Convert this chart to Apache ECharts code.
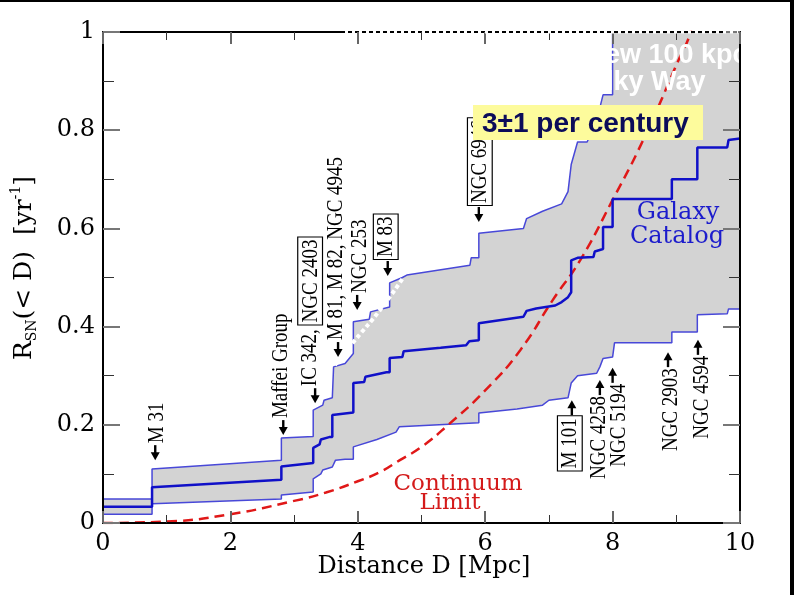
<!DOCTYPE html>
<html><head><meta charset="utf-8">
<script src="https://cdn.jsdelivr.net/npm/echarts@6/dist/echarts.min.js"></script>
<style>html,body{margin:0;padding:0;background:#fff}#c{width:794px;height:595px}</style>
</head><body><div id="c"></div>
<script>
// ---- data ----
var upperEnv = [[0,0.049],[0.77,0.049],[0.77,0.11],[2.8,0.128],[2.8,0.173],[3.3,0.176],[3.3,0.23],[3.45,0.24],[3.47,0.25],[3.6,0.255],[3.62,0.318],[3.8,0.325],[3.93,0.345],[3.93,0.41],[4.18,0.415],[4.2,0.43],[4.5,0.44],[4.5,0.489],[4.7,0.50],[4.77,0.505],[5.76,0.525],[5.78,0.54],[5.9,0.54],[5.9,0.59],[6.6,0.60],[6.65,0.62],[6.9,0.635],[7.2,0.65],[7.3,0.675],[7.35,0.73],[7.45,0.776],[7.6,0.776],[7.75,0.82],[7.85,0.872],[8.0,0.872],[8.0,1.05],[10,1.05]];
var middle = [[0,0.033],[0.77,0.033],[0.77,0.073],[2.8,0.088],[2.8,0.115],[3.3,0.122],[3.3,0.153],[3.4,0.16],[3.42,0.17],[3.55,0.175],[3.6,0.175],[3.6,0.22],[3.93,0.225],[3.93,0.285],[4.1,0.287],[4.12,0.298],[4.45,0.307],[4.5,0.307],[4.5,0.336],[4.7,0.338],[4.72,0.35],[5.3,0.357],[5.7,0.362],[5.75,0.37],[5.9,0.372],[5.9,0.407],[6.6,0.42],[6.65,0.432],[6.8,0.437],[7.1,0.443],[7.2,0.45],[7.3,0.46],[7.35,0.47],[7.35,0.535],[7.45,0.54],[7.7,0.542],[7.72,0.553],[7.85,0.558],[7.85,0.603],[8.0,0.603],[8.0,0.66],[8.93,0.66],[8.93,0.70],[9.33,0.70],[9.33,0.765],[9.8,0.765],[9.82,0.78],[10,0.783]];
var lowerEnv = [[0,0.018],[0.77,0.018],[0.77,0.039],[2.8,0.049],[2.8,0.057],[3.3,0.063],[3.3,0.09],[3.42,0.1],[3.45,0.108],[3.6,0.114],[3.65,0.128],[3.8,0.13],[3.93,0.13],[3.93,0.155],[4.3,0.17],[4.6,0.185],[4.65,0.196],[5.9,0.204],[5.9,0.224],[6.5,0.232],[6.9,0.24],[7.0,0.25],[7.3,0.255],[7.35,0.285],[7.45,0.3],[7.75,0.305],[7.8,0.318],[7.85,0.335],[8.0,0.338],[8.03,0.367],[8.93,0.367],[8.93,0.389],[9.33,0.389],[9.33,0.424],[9.8,0.426],[9.82,0.436],[10,0.436]];
var continuum = [[0,0],[1,0.003],[2,0.018],[3,0.045],[3.5,0.062],[4,0.085],[4.35,0.104],[4.66,0.128],[5,0.155],[5.42,0.2],[6,0.27],[6.55,0.352],[7.06,0.454],[7.49,0.535],[8,0.658],[8.48,0.78],[9.06,0.95],[9.2,0.99],[9.25,1.02]];
var dottedEdge = [[3.64,0.322],[3.96,0.373],[4.35,0.434],[4.71,0.499]];

var annText = ['M 31','Maffei Group','IC 342, NGC 2403','M 81, M 82, NGC 4945','NGC 253','M 83','NGC 6946','M 101','NGC 4258','NGC 5194','NGC 2903','NGC 4594'];
var annBoxed = ['','','NGC 2403','','','M 83','NGC 6946','M 101','','','',''];
var annDir = ['down','down','down','down','down','down','down','up','up','up','up','up'];
var annD = [0.82,2.83,3.33,3.69,3.99,4.47,5.9,7.36,7.8,8.0,8.87,9.34];
var annR = [0.128,0.179,0.244,0.338,0.434,0.503,0.613,0.25,0.291,0.316,0.348,0.373];

var xTickStep = 2, yTickStep = 0.2;

// ---- styling (pixel nudges of label columns relative to their arrows) ----
var annLabelDx = [2,-2,-5,-2,3,-2,1,-2,-1,7,3,4];

// ---- chart ----
var chart = echarts.init(document.getElementById('c'), null, {renderer:'canvas'});
var serif = '"DejaVu Serif", serif';
var tserif = '"Liberation Serif", "Times New Roman", serif';
var sans = '"Liberation Sans", Arial, sans-serif';

function axisCommon(showLabel){
  return {
    type:'value', z:10,
    axisLine:{show:true, onZero:false, lineStyle:{color:'#000', width:2}},
    splitLine:{show:false},
    axisLabel:{show:showLabel, color:'#000', fontFamily:serif, fontSize:24}
  };
}
var xB = Object.assign(axisCommon(true), {min:0,max:10,interval:xTickStep,position:'bottom',
  axisTick:{inside:true,length:12,lineStyle:{color:'#666',width:2}},
  minorTick:{show:true,splitNumber:2,length:8,lineStyle:{color:'#333',width:1}}});
xB.axisLabel.margin = 9;
var xT = Object.assign(axisCommon(false), {min:0,max:10,interval:xTickStep,position:'top',
  axisTick:{inside:true,length:12,lineStyle:{color:'#666',width:2}},
  minorTick:{show:true,splitNumber:2,length:8,lineStyle:{color:'#333',width:1}}});
var yL = Object.assign(axisCommon(true), {min:0,max:1,interval:yTickStep,position:'left',
  axisTick:{inside:true,length:17,lineStyle:{color:'#777',width:2}},
  minorTick:{show:true,splitNumber:2,length:11,lineStyle:{color:'#333',width:1}}});
yL.axisLabel.margin = 8;
var yR = Object.assign(axisCommon(false), {min:0,max:1,interval:yTickStep,position:'right',
  axisTick:{inside:true,length:17,lineStyle:{color:'#777',width:2}},
  minorTick:{show:true,splitNumber:2,length:11,lineStyle:{color:'#333',width:1}}});

function labelRich(i){
  var t = annText[i], b = annBoxed[i];
  if (b) t = t.replace(b, '{bx|' + b + '}');
  return t;
}

function renderAnn(params, api){
  var i = params.dataIndex;
  var p = api.coord([api.value(0), api.value(1)]);
  var x = p[0], y = p[1];
  var down = annDir[i] === 'down';
  var s = down ? -1 : 1;
  var head = {type:'polygon', shape:{points:[[x,y],[x-4.5,y+s*8],[x+4.5,y+s*8]]}, style:{fill:'#000'}};
  var stem = {type:'rect', shape:{x:x-1.2, y: down ? y-15 : y+6, width:2.4, height:9}, style:{fill:'#000'}};
  var txt = {type:'text', x:x + annLabelDx[i], y: down ? y-17 : y+16, rotation:Math.PI/2, scaleX:1, scaleY:1.18,
    style:{text:labelRich(i), align: down ? 'left' : 'right', verticalAlign:'middle',
      fontFamily:tserif, fontSize:19, fill:'#000',
      rich:{bx:{fontFamily:tserif, fontSize:19, fill:'#000', borderColor:'#000', borderWidth:1, padding:[1,2,0,2], backgroundColor:'#fff'}}}};
  return {type:'group', children:[head, stem, txt]};
}

var option = {
  animation:false,
  backgroundColor:'#fff',
  grid:{left:103, right:54, top:32, bottom:72, containLabel:false},
  xAxis:[xB, xT],
  yAxis:[yL, yR],
  series:[
    {type:'line', data:upperEnv, symbol:'none', clip:true, z:2,
     lineStyle:{color:'#4848d8', width:1.5}, areaStyle:{color:'#d3d3d3', opacity:1, origin:'start'}},
    {type:'line', data:lowerEnv, symbol:'none', clip:true, z:2,
     lineStyle:{color:'#4848d8', width:1.5}, areaStyle:{color:'#ffffff', opacity:1, origin:'start'}},
    {type:'line', data:continuum, symbol:'none', smooth:true, clip:true, z:3,
     lineStyle:{color:'#e01818', width:2.5, type:[10,6]}},
    {type:'line', data:middle, symbol:'none', clip:true, z:4,
     lineStyle:{color:'#1010c8', width:2.5}},
    {type:'line', data:dottedEdge, symbol:'none', smooth:true, z:4,
     lineStyle:{color:'#ffffff', width:4, type:[4,3]}},
    {type:'custom', renderItem:renderAnn, clip:false, z:3,
     data:annD.map(function(d,i){return [d, annR[i]];})}
  ],
  graphic:[
    {type:'rect', z:5, shape:{x:473,y:105,width:230,height:35}, style:{fill:'#fdfb9c'}},
    {type:'text', z:6, x:482, y:124, style:{text:'3\u00B11 per century', fontFamily:sans, fontWeight:'bold', fontSize:28, fill:'#0c0c5a', verticalAlign:'middle'}},
    {type:'text', z:6, x:596, y:69, style:{text:'few 100 kpc', fontFamily:sans, fontWeight:'bold', fontSize:27, fill:'#ffffff', verticalAlign:'bottom'}},
    {type:'text', z:6, x:576, y:96, style:{text:'Milky Way', fontFamily:sans, fontWeight:'bold', fontSize:27, fill:'#ffffff', verticalAlign:'bottom'}},
    {type:'text', z:6, x:678, y:213, style:{text:'Galaxy', fontFamily:serif, fontSize:24, fill:'#1c1ccc', align:'center', verticalAlign:'middle'}},
    {type:'text', z:6, x:677, y:237, style:{text:'Catalog', fontFamily:serif, fontSize:24, fill:'#1c1ccc', align:'center', verticalAlign:'middle'}},
    {type:'text', z:6, x:458, y:484, style:{text:'Continuum', fontFamily:serif, fontSize:23, fill:'#d41a1a', align:'center', verticalAlign:'middle'}},
    {type:'text', z:6, x:450, y:503, style:{text:'Limit', fontFamily:serif, fontSize:23, fill:'#d41a1a', align:'center', verticalAlign:'middle'}},
    {type:'text', z:6, x:424, y:567, style:{text:'Distance D [Mpc]', fontFamily:serif, fontSize:24, fill:'#000', align:'center', verticalAlign:'middle'}},
    {type:'text', z:6, x:24, y:268, rotation:Math.PI/2, style:{text:'{a|R}{s|SN}{a|(< D)  [yr}{p|-1}{a|]}', align:'center', verticalAlign:'middle',
      rich:{a:{fontFamily:serif, fontSize:25, fill:'#000', lineHeight:30, verticalAlign:'middle'},
            s:{fontFamily:serif, fontSize:14, fill:'#000', lineHeight:14, verticalAlign:'bottom'},
            p:{fontFamily:serif, fontSize:14, fill:'#000', lineHeight:14, verticalAlign:'top'}}}},
    {type:'line', z:20, shape:{x1:345,y1:32,x2:738,y2:32}, style:{stroke:'#ffffff', lineWidth:3, lineDash:[3,4]}},
    {type:'rect', z:30, shape:{x:0,y:0,width:794,height:2}, style:{fill:'#000'}},
    {type:'rect', z:30, shape:{x:790,y:0,width:4,height:595}, style:{fill:'#000'}}
  ]
};
chart.setOption(option);
</script></body></html>
